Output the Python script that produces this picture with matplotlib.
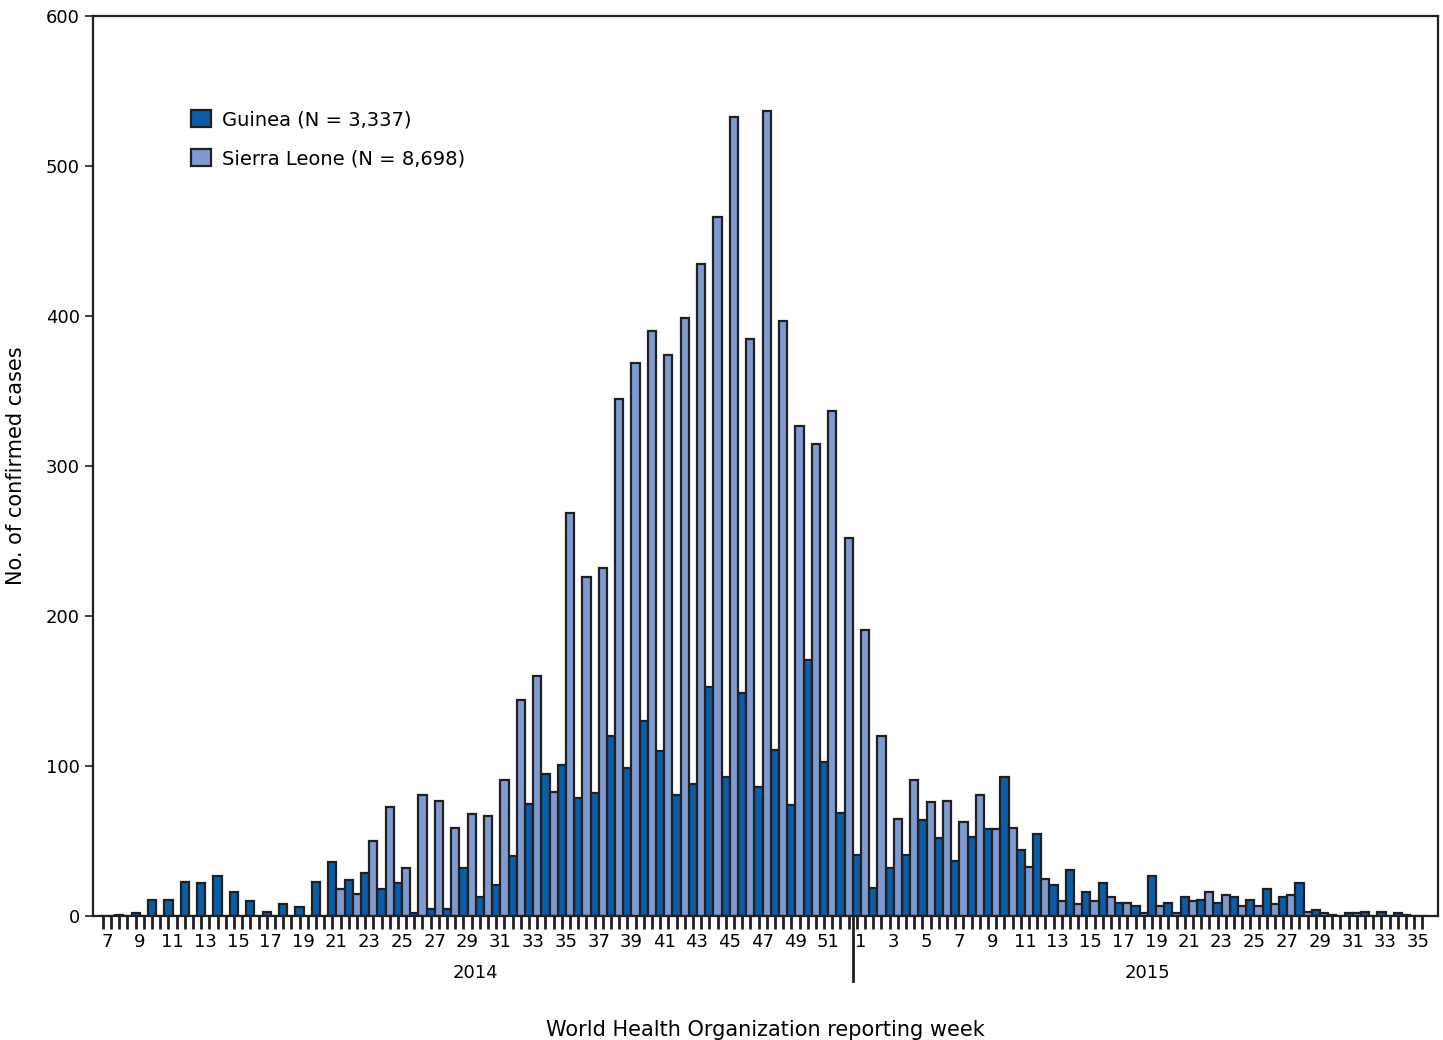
import numpy as np
import matplotlib.pyplot as plt
from matplotlib.patches import Patch

# 2014 weeks 7..52, then 2015 weeks 1..35
weeks = list(range(7, 53)) + list(range(1, 36))

guinea = [0, 1, 2, 11, 11, 23, 22, 27, 16, 10, 3, 8, 6, 23,
          36, 24, 29, 18, 22, 2, 5, 5, 32, 13, 21, 40, 75, 95, 101, 79,
          82, 120, 99, 130, 110, 81, 88, 153, 93, 149, 86, 111, 74, 171, 103, 69,
          41, 19, 32, 41, 64, 52, 37, 53, 58, 93, 44, 55, 21, 31, 16, 22,
          9, 7, 27, 9, 13, 11, 9, 13, 11, 18, 13, 22, 4, 1, 2, 3, 3, 2, 0]
sierra = [0, 0, 0, 0, 0, 0, 0, 0, 0, 0, 0, 0, 0, 0,
          18, 15, 50, 73, 32, 81, 77, 59, 68, 67, 91, 144, 160, 83, 269, 226,
          232, 345, 369, 390, 374, 399, 435, 466, 533, 385, 537, 397, 327, 315, 337, 252,
          191, 120, 65, 91, 76, 77, 63, 81, 58, 59, 33, 25, 10, 8, 10, 13,
          9, 2, 7, 2, 10, 16, 14, 7, 7, 8, 14, 3, 2, 0, 2, 0, 0, 1, 0]

dark = '#0a5ea8'
light = '#7d9bd1'
edge = '#231f20'

fig = plt.figure(figsize=(14.43, 10.4), dpi=100)
ax = fig.add_axes([93/1443, 124/1040, (1438-93)/1443, 900/1040])

x = np.arange(len(weeks))
w = 0.5
ax.bar(x - 0.25, guinea, width=w, color=dark, edgecolor=edge, linewidth=1.6)
ax.bar(x + 0.25, sierra, width=w, color=light, edgecolor=edge, linewidth=1.6)

ax.set_xlim(-0.85, len(weeks) + 0.2)
ax.set_ylim(0, 600)
ax.set_yticks(range(0, 601, 100))
ax.tick_params(axis='y', labelsize=13, length=6, width=1.2, color=edge)

ax.set_xticks([i - 0.25 for i in x] + [i + 0.25 for i in x], minor=True)
ax.set_xticks(x[::2])
ax.set_xticklabels([str(wk) for wk in weeks[::2]], fontsize=13)
ax.tick_params(axis='x', which='major', length=0, pad=12)
ax.tick_params(axis='x', which='minor', length=9, width=2, color=edge)

for s in ax.spines.values():
    s.set_linewidth(1.6)
    s.set_color(edge)

# year divider
ax.plot([45.5, 45.5], [0, -43], color=edge, lw=2, clip_on=False)
ax.text(22.5, -38, '2014', ha='center', va='center', fontsize=13)
ax.text(63.5, -38, '2015', ha='center', va='center', fontsize=13)

ax.set_ylabel('No. of confirmed cases', fontsize=15, labelpad=14)
ax.set_xlabel('World Health Organization reporting week', fontsize=15, labelpad=50)

handles = [Patch(facecolor=dark, edgecolor=edge, linewidth=1.6, label='Guinea (N = 3,337)'),
           Patch(facecolor=light, edgecolor=edge, linewidth=1.6, label='Sierra Leone (N = 8,698)')]
ax.legend(handles=handles, loc='upper left', bbox_to_anchor=(0.06, 0.915), frameon=False,
          fontsize=14, handlelength=1.0, handleheight=1.0, labelspacing=1.0, handletextpad=0.6)

fig.savefig('out.png', dpi=100)
